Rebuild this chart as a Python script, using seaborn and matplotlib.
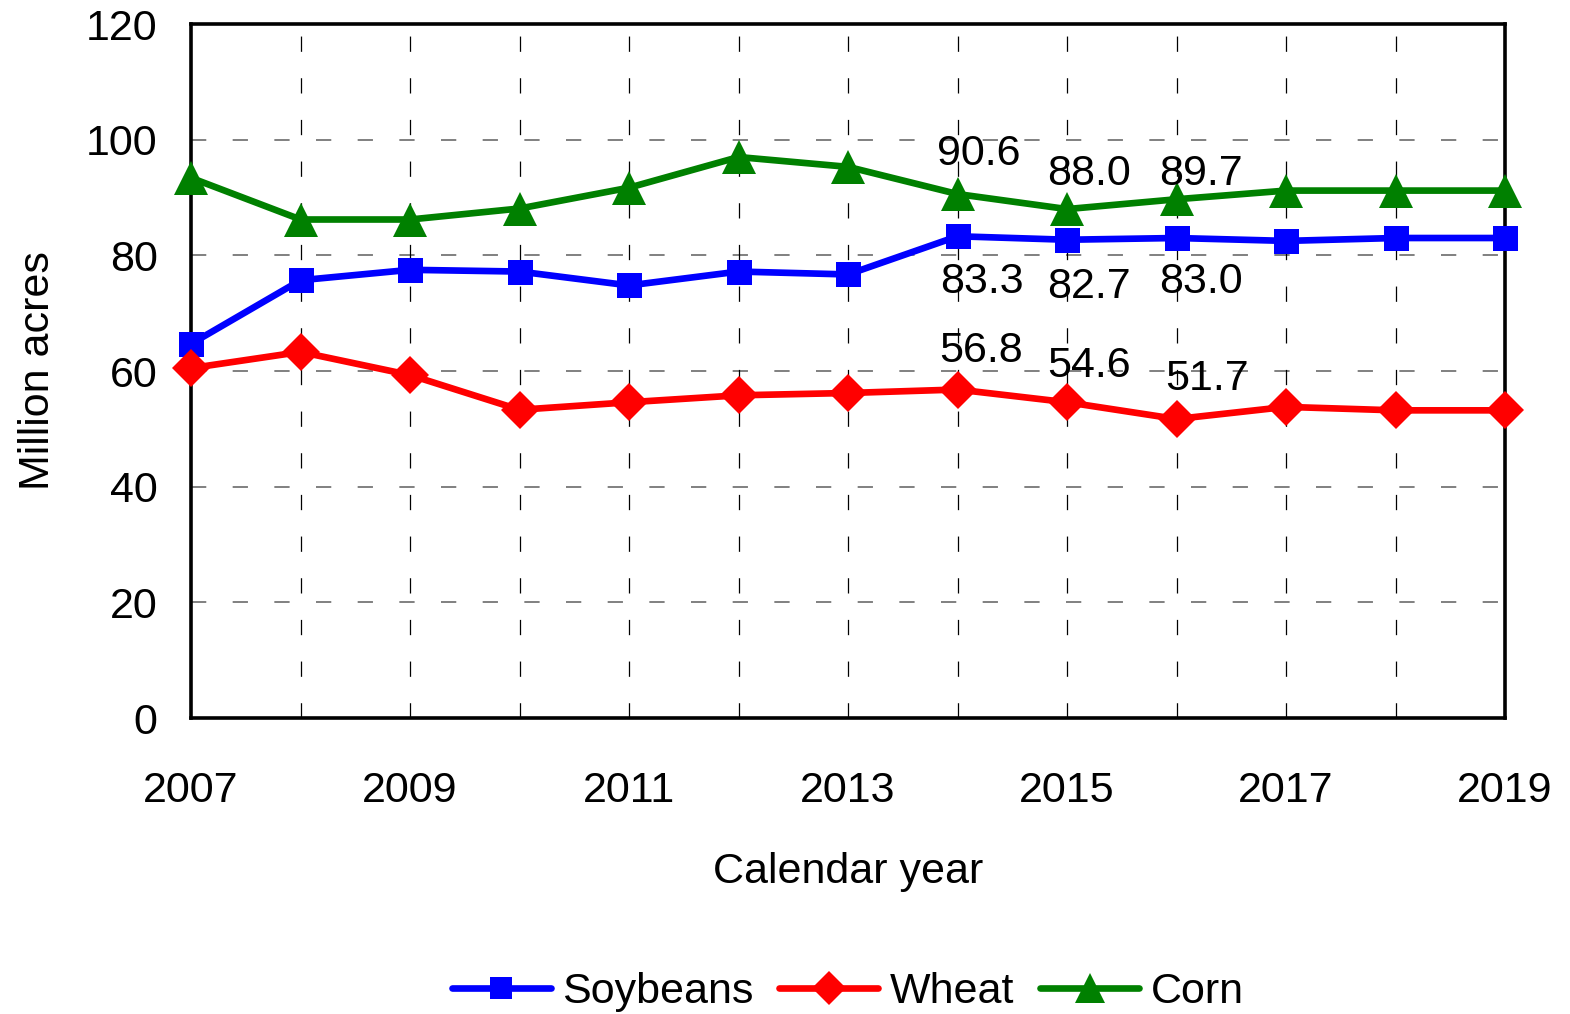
import matplotlib
matplotlib.use("Agg")
import matplotlib.pyplot as plt
from matplotlib.lines import Line2D
import seaborn as sns
import pandas as pd

# Planted acreage by crop, million acres
years = [2007, 2008, 2009, 2010, 2011, 2012, 2013, 2014, 2015, 2016, 2017, 2018, 2019]
soybeans = [64.7, 75.7, 77.5, 77.2, 74.8, 77.2, 76.7, 83.3, 82.7, 83.0, 82.5, 83.0, 83.0]
wheat = [60.5, 63.3, 59.3, 53.3, 54.6, 55.8, 56.2, 56.8, 54.6, 51.7, 53.8, 53.2, 53.2]
corn = [93.4, 86.2, 86.2, 88.1, 91.7, 97.0, 95.3, 90.6, 88.0, 89.7, 91.2, 91.2, 91.2]

series_names = ["Soybeans", "Wheat", "Corn"]
labelled_years = [2014, 2015, 2016]

sns.set_theme(style="white")
plt.rcParams["font.family"] = ["Liberation Sans", "DejaVu Sans"]
plt.rcParams["lines.scale_dashes"] = False
plt.rcParams["text.color"] = "black"

FS = 31

fig = plt.figure(figsize=(15.70, 10.14), dpi=100)
ax = fig.add_axes([0.1217, 0.2919, 0.8369, 0.6844])

df = pd.DataFrame({
    "year": years * 3,
    "acres": soybeans + wheat + corn,
    "crop": sum([[n] * len(years) for n in series_names], []),
})

styles = {
    "Soybeans": dict(color="#0000FF", marker="s", markersize=18),
    "Wheat": dict(color="#FF0000", marker="D", markersize=19),
    "Corn": dict(color="#008000", marker="^", markersize=24),
}

for name in series_names:
    st = styles[name]
    sub = df[df["crop"] == name]
    sns.lineplot(data=sub, x="year", y="acres", ax=ax, color=st["color"],
                 linewidth=4.8, marker=st["marker"], markersize=st["markersize"],
                 markeredgewidth=0, legend=False, clip_on=False, zorder=3)

# Value labels for the highlighted years (pixel offsets from each point)
label_offsets = {
    ("Corn", 2014): (21, 45), ("Corn", 2015): (22, 40), ("Corn", 2016): (24, 30),
    ("Soybeans", 2014): (24, -41), ("Soybeans", 2015): (22, -43), ("Soybeans", 2016): (24, -39),
    ("Wheat", 2014): (24, 43), ("Wheat", 2015): (22, 41), ("Wheat", 2016): (31, 45),
}
values = {"Soybeans": soybeans, "Wheat": wheat, "Corn": corn}
for name in series_names:
    for yr in labelled_years:
        v = values[name][years.index(yr)]
        dx, dy = label_offsets[(name, yr)]
        ax.annotate(f"{v:.1f}", xy=(yr, v), xytext=(dx, dy), textcoords="offset pixels",
                    ha="center", va="center_baseline", fontsize=FS, color="black", zorder=4)

ax.set_xlim(2007, 2019)
ax.set_ylim(0, 120)
ax.set_xticks(years)
ax.set_xticklabels([str(y) if y % 2 == 1 else "" for y in years])
ax.set_yticks(range(0, 121, 20))
ax.tick_params(axis="x", length=0, pad=38, labelsize=FS, colors="black")
ax.tick_params(axis="y", length=0, pad=24, labelsize=FS, colors="black")

# Dashed grid: grey horizontal, black vertical
for yv in range(20, 120, 20):
    ax.axhline(yv, color="#808080", linewidth=1.4, linestyle=(0, (11, 19)), zorder=1)
for xv in years[1:-1]:
    ax.axvline(xv, color="black", linewidth=0.9, linestyle=(0, (11, 19)), zorder=1)

for sp in ax.spines.values():
    sp.set_visible(True)
    sp.set_color("black")
    sp.set_linewidth(2.6)
    sp.set_zorder(2)

ax.set_xlabel("Calendar year", fontsize=FS, labelpad=30, color="black")
ax.set_ylabel("Million acres", fontsize=FS, labelpad=20, color="black")

handles = [Line2D([0], [0], color=styles[n]["color"], linewidth=4.8,
                  marker=styles[n]["marker"], markersize=styles[n]["markersize"] * 0.9,
                  markeredgewidth=0) for n in series_names]
fig.legend(handles, series_names, loc="center", bbox_to_anchor=(0.54, 0.022),
           ncol=3, frameon=False, fontsize=FS, handlelength=2.3, handletextpad=0.27,
           columnspacing=0.6, labelcolor="black")

fig.savefig("out.png", dpi=100, facecolor="white")
